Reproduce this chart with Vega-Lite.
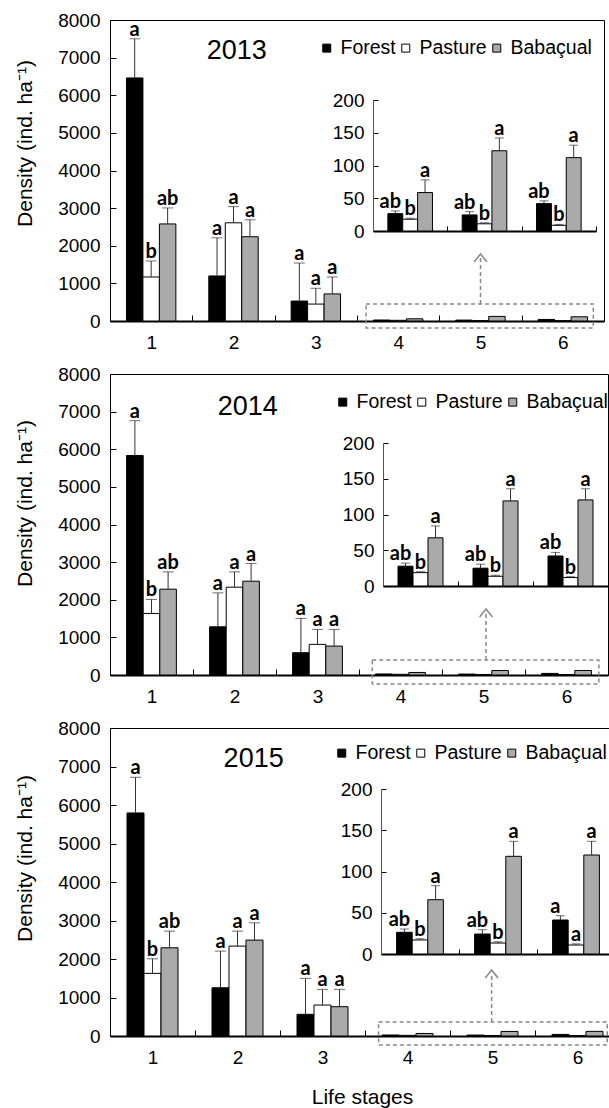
{
  "$schema": "https://vega.github.io/schema/vega-lite/v6.json",
  "padding": {"left": 14, "top": 10, "right": 0, "bottom": 0},
  "bounds": "flush",
  "spacing": 53,
  "config": {
    "font": "Liberation Sans",
    "view": {"stroke": "black", "strokeWidth": 1},
    "axis": {"labelFontSize": 19, "labelColor": "black", "labelFont": "Liberation Sans", "tickColor": "black", "domainColor": "black", "titleFontSize": 21, "titleFontWeight": "normal", "titleColor": "black", "titleFont": "Liberation Sans", "grid": false},
    "legend": {"labelFontSize": 19.5, "labelColor": "black", "labelFont": "Liberation Sans", "symbolType": "square", "symbolSize": 64, "symbolStrokeColor": "black", "symbolStrokeWidth": 1, "columnPadding": -11, "labelOffset": 4, "direction": "horizontal", "orient": "none", "title": null, "gridAlign": "each", "padding": 0}
  },
  "datasets": {
    "bars": [
      {"year": 2013, "stage": "1", "site": "Forest", "mean": 6460, "upper": 7500, "label": "a"},
      {"year": 2013, "stage": "1", "site": "Pasture", "mean": 1170, "upper": 1595, "label": "b"},
      {"year": 2013, "stage": "1", "site": "Babaçual", "mean": 2580, "upper": 3005, "label": "ab"},
      {"year": 2013, "stage": "2", "site": "Forest", "mean": 1197, "upper": 2210, "label": "a"},
      {"year": 2013, "stage": "2", "site": "Pasture", "mean": 2610, "upper": 3040, "label": "a"},
      {"year": 2013, "stage": "2", "site": "Babaçual", "mean": 2240, "upper": 2690, "label": "a"},
      {"year": 2013, "stage": "3", "site": "Forest", "mean": 530, "upper": 1540, "label": "a"},
      {"year": 2013, "stage": "3", "site": "Pasture", "mean": 450, "upper": 870, "label": "a"},
      {"year": 2013, "stage": "3", "site": "Babaçual", "mean": 720, "upper": 1170, "label": "a"},
      {"year": 2013, "stage": "4", "site": "Forest", "mean": 26.5, "upper": 30.6, "label": "ab"},
      {"year": 2013, "stage": "4", "site": "Pasture", "mean": 18, "upper": 19.5, "label": "b"},
      {"year": 2013, "stage": "4", "site": "Babaçual", "mean": 58.7, "upper": 78, "label": "a"},
      {"year": 2013, "stage": "5", "site": "Forest", "mean": 24.5, "upper": 29.6, "label": "ab"},
      {"year": 2013, "stage": "5", "site": "Pasture", "mean": 11, "upper": 12.5, "label": "b"},
      {"year": 2013, "stage": "5", "site": "Babaçual", "mean": 122.5, "upper": 142, "label": "a"},
      {"year": 2013, "stage": "6", "site": "Forest", "mean": 41.8, "upper": 46, "label": "ab"},
      {"year": 2013, "stage": "6", "site": "Pasture", "mean": 8.7, "upper": 10, "label": "b"},
      {"year": 2013, "stage": "6", "site": "Babaçual", "mean": 112, "upper": 131, "label": "a"},
      {"year": 2014, "stage": "1", "site": "Forest", "mean": 5835, "upper": 6760, "label": "a"},
      {"year": 2014, "stage": "1", "site": "Pasture", "mean": 1636, "upper": 2008, "label": "b"},
      {"year": 2014, "stage": "1", "site": "Babaçual", "mean": 2281, "upper": 2740, "label": "ab"},
      {"year": 2014, "stage": "2", "site": "Forest", "mean": 1281, "upper": 2183, "label": "a"},
      {"year": 2014, "stage": "2", "site": "Pasture", "mean": 2334, "upper": 2740, "label": "a"},
      {"year": 2014, "stage": "2", "site": "Babaçual", "mean": 2493, "upper": 2962, "label": "a"},
      {"year": 2014, "stage": "3", "site": "Forest", "mean": 592, "upper": 1504, "label": "a"},
      {"year": 2014, "stage": "3", "site": "Pasture", "mean": 814, "upper": 1212, "label": "a"},
      {"year": 2014, "stage": "3", "site": "Babaçual", "mean": 769, "upper": 1212, "label": "a"},
      {"year": 2014, "stage": "4", "site": "Forest", "mean": 27.7, "upper": 32, "label": "ab"},
      {"year": 2014, "stage": "4", "site": "Pasture", "mean": 18.7, "upper": 20, "label": "b"},
      {"year": 2014, "stage": "4", "site": "Babaçual", "mean": 67.4, "upper": 84, "label": "a"},
      {"year": 2014, "stage": "5", "site": "Forest", "mean": 24.9, "upper": 30.5, "label": "ab"},
      {"year": 2014, "stage": "5", "site": "Pasture", "mean": 13.6, "upper": 15, "label": "b"},
      {"year": 2014, "stage": "5", "site": "Babaçual", "mean": 119, "upper": 136, "label": "a"},
      {"year": 2014, "stage": "6", "site": "Forest", "mean": 42, "upper": 47, "label": "ab"},
      {"year": 2014, "stage": "6", "site": "Pasture", "mean": 11.8, "upper": 13, "label": "b"},
      {"year": 2014, "stage": "6", "site": "Babaçual", "mean": 120.4, "upper": 136, "label": "a"},
      {"year": 2015, "stage": "1", "site": "Forest", "mean": 5794, "upper": 6720, "label": "a"},
      {"year": 2015, "stage": "1", "site": "Pasture", "mean": 1627, "upper": 2006, "label": "b"},
      {"year": 2015, "stage": "1", "site": "Babaçual", "mean": 2291, "upper": 2724, "label": "ab"},
      {"year": 2015, "stage": "2", "site": "Forest", "mean": 1253, "upper": 2205, "label": "a"},
      {"year": 2015, "stage": "2", "site": "Pasture", "mean": 2335, "upper": 2724, "label": "a"},
      {"year": 2015, "stage": "2", "site": "Babaçual", "mean": 2491, "upper": 2940, "label": "a"},
      {"year": 2015, "stage": "3", "site": "Forest", "mean": 563, "upper": 1497, "label": "a"},
      {"year": 2015, "stage": "3", "site": "Pasture", "mean": 804, "upper": 1211, "label": "a"},
      {"year": 2015, "stage": "3", "site": "Babaçual", "mean": 761, "upper": 1211, "label": "a"},
      {"year": 2015, "stage": "4", "site": "Forest", "mean": 26.3, "upper": 30.3, "label": "ab"},
      {"year": 2015, "stage": "4", "site": "Pasture", "mean": 17, "upper": 18.5, "label": "b"},
      {"year": 2015, "stage": "4", "site": "Babaçual", "mean": 65.8, "upper": 82.8, "label": "a"},
      {"year": 2015, "stage": "5", "site": "Forest", "mean": 24.2, "upper": 29.5, "label": "ab"},
      {"year": 2015, "stage": "5", "site": "Pasture", "mean": 13.3, "upper": 14.8, "label": "b"},
      {"year": 2015, "stage": "5", "site": "Babaçual", "mean": 118.4, "upper": 136.6, "label": "a"},
      {"year": 2015, "stage": "6", "site": "Forest", "mean": 41.2, "upper": 46.4, "label": "a"},
      {"year": 2015, "stage": "6", "site": "Pasture", "mean": 10.9, "upper": 12.3, "label": "a"},
      {"year": 2015, "stage": "6", "site": "Babaçual", "mean": 120, "upper": 136.6, "label": "a"}
    ]
  },
  "vconcat": [
    {
      "width": 494, "height": 301,
      "data": {"name": "bars"},
      "layer": [
        {
          "transform": [{"filter": "datum.year == 2013"}],
          "encoding": {
            "x": {"field": "stage", "type": "ordinal", "scale": {"domain": ["1","2","3","4","5","6"], "paddingInner": 0, "paddingOuter": 0}, "axis": {"title": null, "labelAngle": 0, "tickBand": "extent", "tickSize": -6, "labelPadding": 18, "domainWidth": 2}},
            "xOffset": {"field": "site", "type": "nominal", "scale": {"domain": ["Forest","Pasture","Babaçual"], "paddingInner": 0, "paddingOuter": 1.06}},
            "y": {"field": "mean", "type": "quantitative", "title": "Density (ind. ha⁻¹)", "scale": {"domain": [0, 8000], "nice": false}, "axis": {"values": [0,1000,2000,3000,4000,5000,6000,7000,8000], "format": "d", "domain": false, "tickSize": -6, "labelPadding": 16, "titlePadding": 22, "titleY": 123}}
          },
          "layer": [
            {"mark": {"type": "bar", "stroke": "black", "strokeWidth": 1}, "encoding": {"fill": {"field": "site", "type": "nominal", "scale": {"domain": ["Forest","Pasture","Babaçual"], "range": ["#000000","#ffffff","#aaaaaa"]}, "legend": {"legendX": 207, "legendY": 18, "gridAlign": "each", "padding": 0, "columnPadding": -11}}}},
            {"transform": [{"filter": "toNumber(datum.stage) <= 3"}], "mark": {"type": "rule", "color": "#333333", "strokeWidth": 1}, "encoding": {"y2": {"field": "upper"}}},
            {"transform": [{"filter": "toNumber(datum.stage) <= 3"}], "mark": {"type": "tick", "orient": "horizontal", "size": 11, "thickness": 1, "color": "#333333"}, "encoding": {"y": {"field": "upper", "type": "quantitative", "title": "Density (ind. ha⁻¹)"}}},
            {"transform": [{"filter": "toNumber(datum.stage) <= 3"}], "mark": {"type": "text", "font": "Lato", "fontWeight": "bold", "fontSize": 20, "baseline": "alphabetic", "dy": -3, "color": "black"}, "encoding": {"y": {"field": "upper", "type": "quantitative", "title": "Density (ind. ha⁻¹)"}, "text": {"field": "label"}}}
          ]
        },
        {
          "transform": [{"filter": "datum.year == 2013 && toNumber(datum.stage) >= 4"}],
          "encoding": {
            "x": {"field": "stage", "type": "ordinal", "scale": {"domain": ["4","5","6"], "range": [263, 486], "paddingInner": 0, "paddingOuter": 0}, "axis": {"orient": "bottom", "offset": -90, "labels": false, "title": null, "tickBand": "extent", "tickSize": -5, "domainWidth": 2}},
            "xOffset": {"field": "site", "type": "nominal", "scale": {"domain": ["Forest","Pasture","Babaçual"], "paddingInner": 0, "paddingOuter": 1.0}},
            "y": {"field": "mean", "type": "quantitative", "title": null, "scale": {"domain": [0, 200], "range": [211, 80], "nice": false}, "axis": {"orient": "left", "offset": -263, "values": [0,50,100,150,200], "tickSize": -5, "labelPadding": 14, "domainColor": "#555555", "title": null}}
          },
          "layer": [
            {"mark": {"type": "bar", "stroke": "black", "strokeWidth": 1}, "encoding": {"fill": {"field": "site", "type": "nominal"}}},
            {"mark": {"type": "rule", "color": "#333333", "strokeWidth": 1}, "encoding": {"y2": {"field": "upper"}}},
            {"mark": {"type": "tick", "orient": "horizontal", "size": 9, "thickness": 1, "color": "#333333"}, "encoding": {"y": {"field": "upper", "type": "quantitative", "title": null}}},
            {"transform": [{"filter": "datum.site == 'Forest'"}], "mark": {"type": "text", "font": "Lato", "fontWeight": "bold", "fontSize": 20, "baseline": "alphabetic", "dy": -3, "dx": -5, "color": "black"}, "encoding": {"y": {"field": "upper", "type": "quantitative", "title": null}, "text": {"field": "label"}}},
            {"transform": [{"filter": "datum.site != 'Forest'"}], "mark": {"type": "text", "font": "Lato", "fontWeight": "bold", "fontSize": 20, "baseline": "alphabetic", "dy": -3, "color": "black"}, "encoding": {"y": {"field": "upper", "type": "quantitative", "title": null}, "text": {"field": "label"}}}
          ]
        },
        {
          "data": {"values": [{}]},
          "layer": [
            {"mark": {"type": "rect", "fillOpacity": 0, "stroke": "#888888", "strokeWidth": 1.5, "strokeDash": [4, 3]}, "encoding": {"x": {"datum": 3.61, "type": "quantitative", "scale": {"domain": [0.5, 6.5], "nice": false, "zero": false}, "axis": null}, "x2": {"datum": 6.37}, "y": {"datum": -186, "type": "quantitative", "scale": {"domain": [0, 8000], "nice": false}, "axis": null}, "y2": {"datum": 452}}},
            {"mark": {"type": "rule", "stroke": "#888888", "strokeWidth": 1.5, "strokeDash": [4, 3]}, "encoding": {"x": {"datum": 5.0, "type": "quantitative"}, "y": {"datum": 452, "type": "quantitative"}, "y2": {"datum": 1674}}},
            {"mark": {"type": "point", "shape": "M-0.8,0.5L0,-0.5L0.8,0.5", "filled": false, "stroke": "#888888", "strokeWidth": 1.5, "size": 256, "opacity": 1}, "encoding": {"x": {"datum": 5.0, "type": "quantitative"}, "y": {"datum": 1674, "type": "quantitative"}}},
            {"mark": {"type": "text", "text": "2013", "fontSize": 27, "font": "Liberation Sans", "baseline": "middle", "color": "black"}, "encoding": {"x": {"datum": 2.04, "type": "quantitative"}, "y": {"datum": 7176, "type": "quantitative"}}}
          ]
        }
      ],
      "resolve": {"scale": {"x": "independent", "y": "independent", "xOffset": "independent"}}
    },
    {
      "width": 498, "height": 301,
      "data": {"name": "bars"},
      "layer": [
        {
          "transform": [{"filter": "datum.year == 2014"}],
          "encoding": {
            "x": {"field": "stage", "type": "ordinal", "scale": {"domain": ["1","2","3","4","5","6"], "paddingInner": 0, "paddingOuter": 0}, "axis": {"title": null, "labelAngle": 0, "tickBand": "extent", "tickSize": -6, "labelPadding": 18, "domainWidth": 2}},
            "xOffset": {"field": "site", "type": "nominal", "scale": {"domain": ["Forest","Pasture","Babaçual"], "paddingInner": 0, "paddingOuter": 1.06}},
            "y": {"field": "mean", "type": "quantitative", "title": "Density (ind. ha⁻¹)", "scale": {"domain": [0, 8000], "nice": false}, "axis": {"values": [0,1000,2000,3000,4000,5000,6000,7000,8000], "format": "d", "domain": false, "tickSize": -6, "labelPadding": 16, "titlePadding": 22, "titleY": 129}}
          },
          "layer": [
            {"mark": {"type": "bar", "stroke": "black", "strokeWidth": 1}, "encoding": {"fill": {"field": "site", "type": "nominal", "scale": {"domain": ["Forest","Pasture","Babaçual"], "range": ["#000000","#ffffff","#aaaaaa"]}, "legend": {"legendX": 223, "legendY": 18, "gridAlign": "each", "padding": 0, "columnPadding": -11}}}},
            {"transform": [{"filter": "toNumber(datum.stage) <= 3"}], "mark": {"type": "rule", "color": "#333333", "strokeWidth": 1}, "encoding": {"y2": {"field": "upper"}}},
            {"transform": [{"filter": "toNumber(datum.stage) <= 3"}], "mark": {"type": "tick", "orient": "horizontal", "size": 11, "thickness": 1, "color": "#333333"}, "encoding": {"y": {"field": "upper", "type": "quantitative", "title": "Density (ind. ha⁻¹)"}}},
            {"transform": [{"filter": "toNumber(datum.stage) <= 3"}], "mark": {"type": "text", "font": "Lato", "fontWeight": "bold", "fontSize": 20, "baseline": "alphabetic", "dy": -3, "color": "black"}, "encoding": {"y": {"field": "upper", "type": "quantitative", "title": "Density (ind. ha⁻¹)"}, "text": {"field": "label"}}}
          ]
        },
        {
          "transform": [{"filter": "datum.year == 2014 && toNumber(datum.stage) >= 4"}],
          "encoding": {
            "x": {"field": "stage", "type": "ordinal", "scale": {"domain": ["4","5","6"], "range": [273, 498], "paddingInner": 0, "paddingOuter": 0}, "axis": {"orient": "bottom", "offset": -89, "labels": false, "title": null, "tickBand": "extent", "tickSize": -5, "domainWidth": 2}},
            "xOffset": {"field": "site", "type": "nominal", "scale": {"domain": ["Forest","Pasture","Babaçual"], "paddingInner": 0, "paddingOuter": 1.0}},
            "y": {"field": "mean", "type": "quantitative", "title": null, "scale": {"domain": [0, 200], "range": [212, 69], "nice": false}, "axis": {"orient": "left", "offset": -273, "values": [0,50,100,150,200], "tickSize": -5, "labelPadding": 14, "domainColor": "#555555", "title": null}}
          },
          "layer": [
            {"mark": {"type": "bar", "stroke": "black", "strokeWidth": 1}, "encoding": {"fill": {"field": "site", "type": "nominal"}}},
            {"mark": {"type": "rule", "color": "#333333", "strokeWidth": 1}, "encoding": {"y2": {"field": "upper"}}},
            {"mark": {"type": "tick", "orient": "horizontal", "size": 9, "thickness": 1, "color": "#333333"}, "encoding": {"y": {"field": "upper", "type": "quantitative", "title": null}}},
            {"transform": [{"filter": "datum.site == 'Forest'"}], "mark": {"type": "text", "font": "Lato", "fontWeight": "bold", "fontSize": 20, "baseline": "alphabetic", "dy": -3, "dx": -5, "color": "black"}, "encoding": {"y": {"field": "upper", "type": "quantitative", "title": null}, "text": {"field": "label"}}},
            {"transform": [{"filter": "datum.site != 'Forest'"}], "mark": {"type": "text", "font": "Lato", "fontWeight": "bold", "fontSize": 20, "baseline": "alphabetic", "dy": -3, "color": "black"}, "encoding": {"y": {"field": "upper", "type": "quantitative", "title": null}, "text": {"field": "label"}}}
          ]
        },
        {
          "data": {"values": [{}]},
          "layer": [
            {"mark": {"type": "rect", "fillOpacity": 0, "stroke": "#888888", "strokeWidth": 1.5, "strokeDash": [4, 3]}, "encoding": {"x": {"datum": 3.66, "type": "quantitative", "scale": {"domain": [0.5, 6.5], "nice": false, "zero": false}, "axis": null}, "x2": {"datum": 6.39}, "y": {"datum": -239, "type": "quantitative", "scale": {"domain": [0, 8000], "nice": false}, "axis": null}, "y2": {"datum": 399}}},
            {"mark": {"type": "rule", "stroke": "#888888", "strokeWidth": 1.5, "strokeDash": [4, 3]}, "encoding": {"x": {"datum": 5.03, "type": "quantitative"}, "y": {"datum": 399, "type": "quantitative"}, "y2": {"datum": 1648}}},
            {"mark": {"type": "point", "shape": "M-0.8,0.5L0,-0.5L0.8,0.5", "filled": false, "stroke": "#888888", "strokeWidth": 1.5, "size": 256, "opacity": 1}, "encoding": {"x": {"datum": 5.03, "type": "quantitative"}, "y": {"datum": 1648, "type": "quantitative"}}},
            {"mark": {"type": "text", "text": "2014", "fontSize": 27, "font": "Liberation Sans", "baseline": "middle", "color": "black"}, "encoding": {"x": {"datum": 2.16, "type": "quantitative"}, "y": {"datum": 7123, "type": "quantitative"}}}
          ]
        }
      ],
      "resolve": {"scale": {"x": "independent", "y": "independent", "xOffset": "independent"}}
    },
    {
      "width": 510, "height": 308,
      "data": {"name": "bars"},
      "layer": [
        {
          "transform": [{"filter": "datum.year == 2015"}],
          "encoding": {
            "x": {"field": "stage", "type": "ordinal", "scale": {"domain": ["1","2","3","4","5","6"], "paddingInner": 0, "paddingOuter": 0}, "axis": {"title": "Life stages", "titlePadding": 19, "titleX": 252, "labelAngle": 0, "tickBand": "extent", "tickSize": -6, "labelPadding": 18, "domainWidth": 2}},
            "xOffset": {"field": "site", "type": "nominal", "scale": {"domain": ["Forest","Pasture","Babaçual"], "paddingInner": 0, "paddingOuter": 1.06}},
            "y": {"field": "mean", "type": "quantitative", "title": "Density (ind. ha⁻¹)", "scale": {"domain": [0, 8000], "nice": false}, "axis": {"values": [0,1000,2000,3000,4000,5000,6000,7000,8000], "format": "d", "domain": false, "tickSize": -6, "labelPadding": 16, "titlePadding": 22, "titleY": 130}}
          },
          "layer": [
            {"mark": {"type": "bar", "stroke": "black", "strokeWidth": 1}, "encoding": {"fill": {"field": "site", "type": "nominal", "scale": {"domain": ["Forest","Pasture","Babaçual"], "range": ["#000000","#ffffff","#aaaaaa"]}, "legend": {"legendX": 222, "legendY": 15, "gridAlign": "each", "padding": 0, "columnPadding": -11}}}},
            {"transform": [{"filter": "toNumber(datum.stage) <= 3"}], "mark": {"type": "rule", "color": "#333333", "strokeWidth": 1}, "encoding": {"y2": {"field": "upper"}}},
            {"transform": [{"filter": "toNumber(datum.stage) <= 3"}], "mark": {"type": "tick", "orient": "horizontal", "size": 11, "thickness": 1, "color": "#333333"}, "encoding": {"y": {"field": "upper", "type": "quantitative", "title": "Density (ind. ha⁻¹)"}}},
            {"transform": [{"filter": "toNumber(datum.stage) <= 3"}], "mark": {"type": "text", "font": "Lato", "fontWeight": "bold", "fontSize": 20, "baseline": "alphabetic", "dy": -3, "color": "black"}, "encoding": {"y": {"field": "upper", "type": "quantitative", "title": "Density (ind. ha⁻¹)"}, "text": {"field": "label"}}}
          ]
        },
        {
          "transform": [{"filter": "datum.year == 2015 && toNumber(datum.stage) >= 4"}],
          "encoding": {
            "x": {"field": "stage", "type": "ordinal", "scale": {"domain": ["4","5","6"], "range": [271, 505], "paddingInner": 0, "paddingOuter": 0}, "axis": {"orient": "bottom", "offset": -82, "labels": false, "title": null, "tickBand": "extent", "tickSize": -5, "domainWidth": 2}},
            "xOffset": {"field": "site", "type": "nominal", "scale": {"domain": ["Forest","Pasture","Babaçual"], "paddingInner": 0, "paddingOuter": 1.0}},
            "y": {"field": "mean", "type": "quantitative", "title": null, "scale": {"domain": [0, 200], "range": [226, 61], "nice": false}, "axis": {"orient": "left", "offset": -271, "values": [0,50,100,150,200], "tickSize": -5, "labelPadding": 14, "domainColor": "#555555", "title": null}}
          },
          "layer": [
            {"mark": {"type": "bar", "stroke": "black", "strokeWidth": 1}, "encoding": {"fill": {"field": "site", "type": "nominal"}}},
            {"mark": {"type": "rule", "color": "#333333", "strokeWidth": 1}, "encoding": {"y2": {"field": "upper"}}},
            {"mark": {"type": "tick", "orient": "horizontal", "size": 9, "thickness": 1, "color": "#333333"}, "encoding": {"y": {"field": "upper", "type": "quantitative", "title": null}}},
            {"transform": [{"filter": "datum.site == 'Forest'"}], "mark": {"type": "text", "font": "Lato", "fontWeight": "bold", "fontSize": 20, "baseline": "alphabetic", "dy": -3, "dx": -5, "color": "black"}, "encoding": {"y": {"field": "upper", "type": "quantitative", "title": null}, "text": {"field": "label"}}},
            {"transform": [{"filter": "datum.site != 'Forest'"}], "mark": {"type": "text", "font": "Lato", "fontWeight": "bold", "fontSize": 20, "baseline": "alphabetic", "dy": -3, "color": "black"}, "encoding": {"y": {"field": "upper", "type": "quantitative", "title": null}, "text": {"field": "label"}}}
          ]
        },
        {
          "data": {"values": [{}]},
          "layer": [
            {"mark": {"type": "rect", "fillOpacity": 0, "stroke": "#888888", "strokeWidth": 1.5, "strokeDash": [4, 3]}, "encoding": {"x": {"datum": 3.66, "type": "quantitative", "scale": {"domain": [0.5, 6.5], "nice": false, "zero": false}, "axis": null}, "x2": {"datum": 6.35}, "y": {"datum": -234, "type": "quantitative", "scale": {"domain": [0, 8000], "nice": false}, "axis": null}, "y2": {"datum": 364}}},
            {"mark": {"type": "rule", "stroke": "#888888", "strokeWidth": 1.5, "strokeDash": [4, 3]}, "encoding": {"x": {"datum": 4.99, "type": "quantitative"}, "y": {"datum": 364, "type": "quantitative"}, "y2": {"datum": 1610}}},
            {"mark": {"type": "point", "shape": "M-0.8,0.5L0,-0.5L0.8,0.5", "filled": false, "stroke": "#888888", "strokeWidth": 1.5, "size": 256, "opacity": 1}, "encoding": {"x": {"datum": 4.99, "type": "quantitative"}, "y": {"datum": 1610, "type": "quantitative"}}},
            {"mark": {"type": "text", "text": "2015", "fontSize": 27, "font": "Liberation Sans", "baseline": "middle", "color": "black"}, "encoding": {"x": {"datum": 2.19, "type": "quantitative"}, "y": {"datum": 7195, "type": "quantitative"}}}
          ]
        }
      ],
      "resolve": {"scale": {"x": "independent", "y": "independent", "xOffset": "independent"}}
    }
  ],
  "resolve": {"scale": {"fill": "independent", "x": "independent", "y": "independent", "xOffset": "independent"}, "legend": {"fill": "independent"}}
}
